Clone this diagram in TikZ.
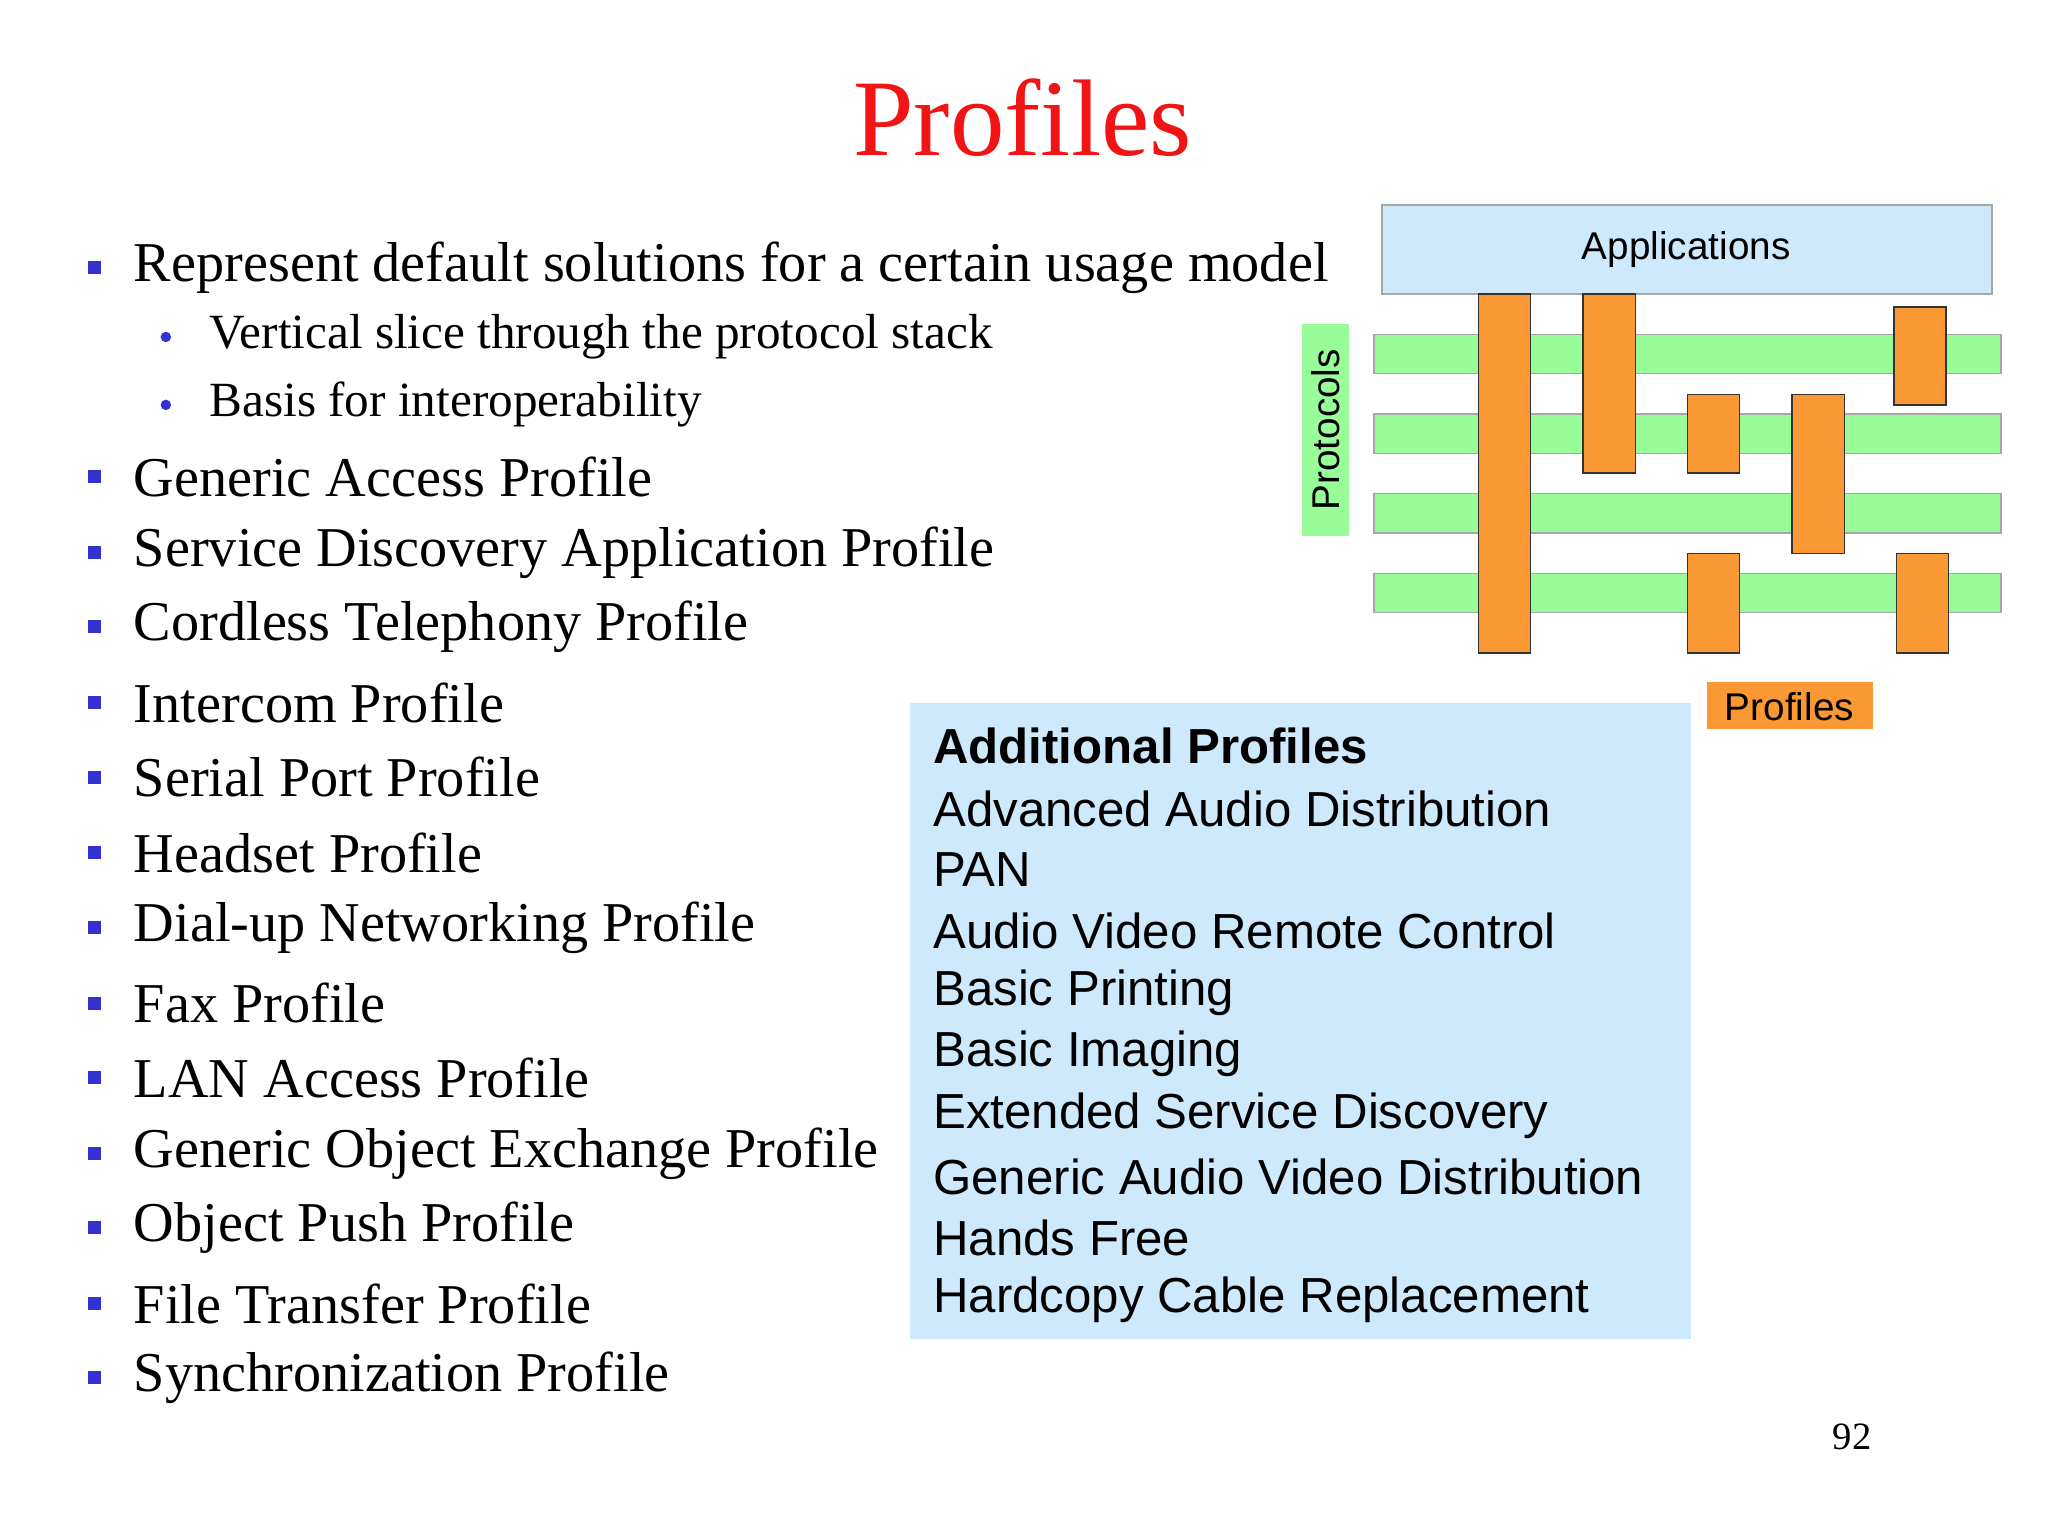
\documentclass[tikz,border=0pt]{standalone}
\usepackage{fontspec}
\setmainfont{Liberation Serif}
\newfontfamily\arialfont{Liberation Sans}
\definecolor{titlered}{RGB}{240,20,20}
\definecolor{bulletblue}{RGB}{50,50,210}
\definecolor{appblue}{RGB}{206,232,252}
\definecolor{protgreen}{RGB}{152,252,152}
\definecolor{proforange}{RGB}{250,152,52}
\tikzset{
  bullet/.style={anchor=west, font=\fontsize{16}{18}\selectfont, inner sep=0pt},
  subbullet/.style={anchor=west, font=\fontsize{14}{16}\selectfont, inner sep=0pt},
  addtext/.style={anchor=west, font=\arialfont\fontsize{14}{16}\selectfont, inner sep=0pt},
  layer/.style={draw=gray!70, fill=protgreen},
  slice/.style={draw=gray!40!black, fill=proforange}
}
\begin{document}
\begin{tikzpicture}[x=0.01306cm, y=-0.01306cm]
\useasboundingbox (0,0) rectangle (1568,1176);
\node[font=\fontsize{31}{34}\selectfont, text=titlered] (title) at (783,90) {Profiles};

% bullet list
\foreach \ypos/\txt [count=\i] in {205/Represent default solutions for a certain usage model,
  365/Generic Access Profile, 423/Service Discovery Application Profile,
  480/Cordless Telephony Profile, 538/Intercom Profile, 595/Serial Port Profile,
  653/Headset Profile, 710/Dial-up Networking Profile, 768/Fax Profile,
  825/LAN Access Profile, 883/Generic Object Exchange Profile,
  940/Object Push Profile, 998/File Transfer Profile, 1055/Synchronization Profile}{
  \fill[bulletblue] (67,\ypos-5) rectangle (77,\ypos+5);
  \node[bullet] (item\i) at (102,\ypos) {\txt};
}
\foreach \ypos/\txt [count=\i] in {258/Vertical slice through the protocol stack,
  310/Basis for interoperability}{
  \fill[bulletblue] (127,\ypos) circle (4);
  \node[subbullet] (sub\i) at (160,\ypos) {\txt};
}

% protocol stack
\draw[gray!70, fill=appblue] (1058,157) rectangle (1525,225);
\node[font=\arialfont\fontsize{11}{13}\selectfont] (apps) at (1291,191) {Applications};
\foreach \ypos in {256,317,378,439}
  \draw[layer] (1052,\ypos) rectangle (1532,\ypos+30);
\fill[protgreen] (997,248) rectangle (1033,410);
\node[rotate=90, font=\arialfont\fontsize{11}{13}\selectfont] (prot) at (1015,329) {Protocols};
\foreach \xa/\ya/\yb in {1132/225/500, 1212/225/362, 1450/235/310, 1292/302/362,
  1372/302/424, 1292/424/500, 1452/424/500}
  \draw[slice] (\xa,\ya) rectangle (\xa+40,\yb);
\fill[proforange] (1307,522) rectangle (1434,558);
\node[font=\arialfont\fontsize{11}{13}\selectfont] (prof) at (1370,541) {Profiles};

% additional profiles
\fill[appblue] (697,538) rectangle (1295,1025);
\node[addtext, font=\arialfont\bfseries\fontsize{14}{16}\selectfont] (addhead) at (714,571) {Additional Profiles};
\foreach \ypos/\txt [count=\i] in {619/Advanced Audio Distribution, 666/PAN,
  713/Audio Video Remote Control, 760/Basic Printing, 807/Basic Imaging,
  854/Extended Service Discovery, 901/Generic Audio Video Distribution,
  948/Hands Free, 995/Hardcopy Cable Replacement}
  \node[addtext] (add\i) at (714,\ypos) {\txt};

\node[font=\fontsize{11}{13}\selectfont] (page) at (1418,1100) {92};
\end{tikzpicture}
\end{document}
